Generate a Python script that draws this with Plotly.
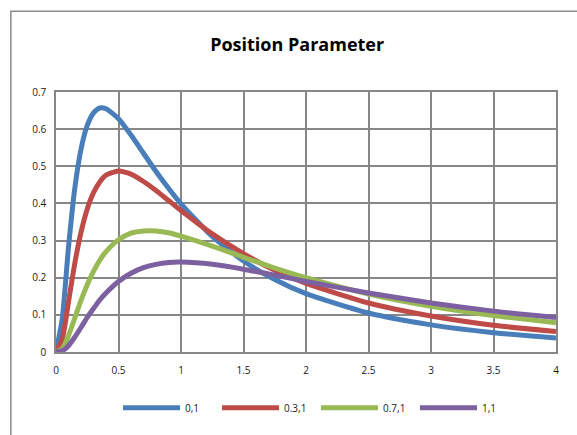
import plotly.graph_objects as go

# x positions (read along the horizontal axis)
x_vals = [0, 0.05, 0.1, 0.15, 0.2, 0.25, 0.3, 0.35, 0.4, 0.5, 0.6, 0.7, 0.8, 0.9,
          1.0, 1.25, 1.5, 1.75, 2.0, 2.5, 3.0, 3.5, 4.0]

series_names = ["0,1", "0.3,1", "0.7,1", "1,1"]

y_0_1 = [0, 0.090, 0.282, 0.440, 0.546, 0.610, 0.644, 0.657, 0.655, 0.628, 0.584, 0.535,
         0.486, 0.441, 0.399, 0.311, 0.245, 0.195, 0.157, 0.105, 0.073, 0.052, 0.038]
y_03_1 = [0, 0.035, 0.135, 0.238, 0.322, 0.385, 0.429, 0.458, 0.476, 0.487, 0.479, 0.459,
          0.435, 0.408, 0.381, 0.318, 0.265, 0.220, 0.185, 0.132, 0.097, 0.072, 0.055]
y_07_1 = [0, 0.009, 0.044, 0.091, 0.139, 0.181, 0.217, 0.247, 0.270, 0.302, 0.320, 0.326,
          0.326, 0.321, 0.312, 0.285, 0.255, 0.226, 0.200, 0.156, 0.123, 0.098, 0.079]
y_1_1 = [0, 0.003, 0.017, 0.040, 0.066, 0.093, 0.117, 0.140, 0.159, 0.190, 0.212, 0.227,
         0.236, 0.241, 0.242, 0.236, 0.223, 0.207, 0.190, 0.159, 0.132, 0.110, 0.093]

series_values = [y_0_1, y_03_1, y_07_1, y_1_1]
colors = ["#4A7EBB", "#BE4B48", "#98B954", "#7D60A0"]

x_ticks = [0, 0.5, 1, 1.5, 2, 2.5, 3, 3.5, 4]
x_tick_labels = ["0", "0.5", "1", "1.5", "2", "2.5", "3", "3.5", "4"]
y_ticks = [0, 0.1, 0.2, 0.3, 0.4, 0.5, 0.6, 0.7]
y_tick_labels = ["0", "0.1", "0.2", "0.3", "0.4", "0.5", "0.6", "0.7"]

fig = go.Figure()
for name, ys, c in zip(series_names, series_values, colors):
    fig.add_trace(go.Scatter(
        x=x_vals, y=ys, name=name, mode="lines",
        line=dict(color=c, width=5, shape="spline", smoothing=0.6),
    ))

grid = "#878787"
fig.update_layout(
    width=577, height=435,
    margin=dict(l=56, r=21, t=92, b=83),
    paper_bgcolor="white", plot_bgcolor="white",
    font=dict(family="Open Sans", size=10, color="#1a1a1a"),
    title=dict(text="<b>Position Parameter</b>", x=0.515, xanchor="center",
               y=1 - 45 / 435, yanchor="middle",
               font=dict(family="Open Sans", size=18, color="black")),
    xaxis=dict(range=[0, 4], tickvals=x_ticks, ticktext=x_tick_labels,
               showgrid=True, gridcolor=grid, gridwidth=1.5,
               showline=True, linecolor=grid, linewidth=1.5, mirror=True,
               ticks="outside", ticklen=8, tickcolor="rgba(0,0,0,0)",
               zeroline=False, fixedrange=True),
    yaxis=dict(range=[0, 0.7], tickvals=y_ticks, ticktext=y_tick_labels,
               showgrid=True, gridcolor=grid, gridwidth=1.5,
               showline=True, linecolor=grid, linewidth=1.5, mirror=True,
               ticks="outside", ticklen=6, tickcolor="rgba(0,0,0,0)",
               zeroline=False, fixedrange=True),
    legend=dict(orientation="h", x=0.52, xanchor="center", y=-0.2145,
                yanchor="middle", font=dict(size=10), bgcolor="rgba(0,0,0,0)",
                itemwidth=57, entrywidth=27, entrywidthmode="pixels"),
    showlegend=True,
    shapes=[dict(type="rect", xref="paper", yref="paper",
                 x0=-0.0903, x1=1.2, y0=-0.6, y1=1.311,
                 line=dict(color="#8c8c8c", width=1.5), fillcolor="rgba(0,0,0,0)",
                 layer="below")],
)

fig.write_html("out.html")
